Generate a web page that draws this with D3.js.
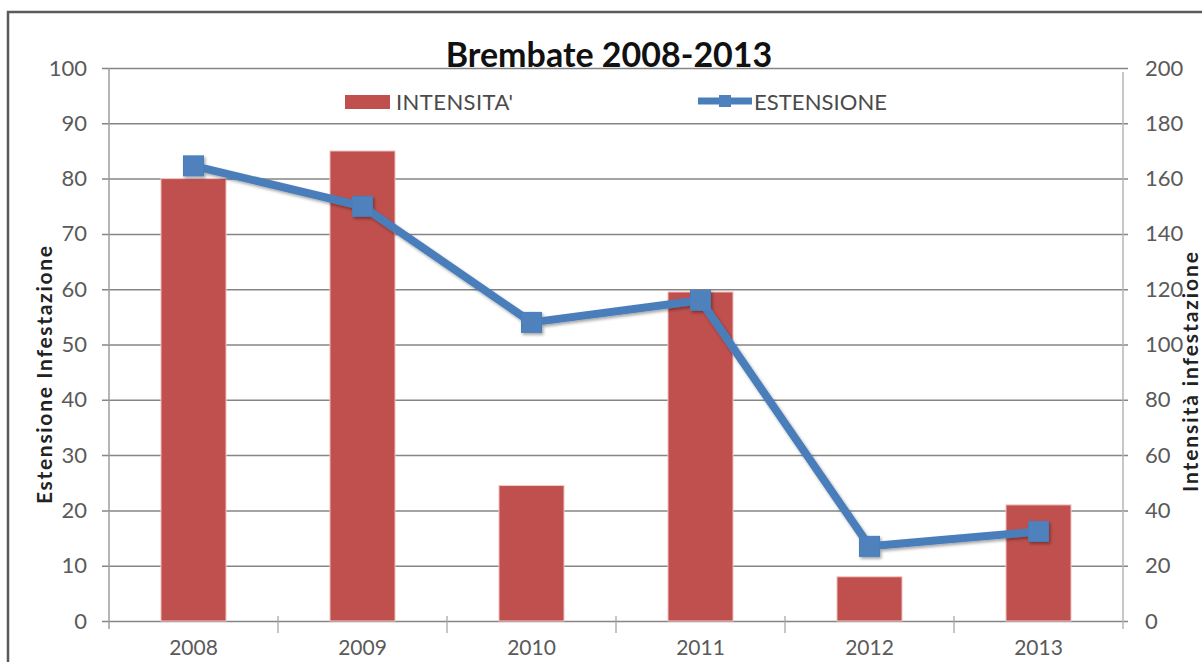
<!DOCTYPE html>
<html>
<head>
<meta charset="utf-8">
<script src="https://cdn.jsdelivr.net/npm/d3@7"></script>
<style>
body { margin: 0; background: #fff; overflow: hidden; }
text { font-family: Lato, "Open Sans", sans-serif; }
</style>
</head>
<body>
<script>
// data
var years = ["2008", "2009", "2010", "2011", "2012", "2013"];
var intensita = [160, 170, 49, 119, 16, 42];      // bars, right axis
var estensione = [82.3, 75, 54, 58, 13.5, 16.2];  // line, left axis
var leftTicks = [0, 10, 20, 30, 40, 50, 60, 70, 80, 90, 100];
var rightTicks = [0, 20, 40, 60, 80, 100, 120, 140, 160, 180, 200];

d3.select(window).on('load', init);

function init()
{
    var w = 1202;
    var h = 662;

    // plot area
    var left = 109, right = 1123, top = 68, bottom = 621;

    var svg = d3.select("body")
        .append("svg")
        .attr("width", w)
        .attr("height", h);

    var defs = svg.append("defs");
    var shadow = defs.append("filter")
        .attr("id", "shadow")
        .attr("x", "-10%").attr("y", "-10%")
        .attr("width", "130%").attr("height", "130%");
    shadow.append("feDropShadow")
        .attr("dx", 1.5).attr("dy", 2)
        .attr("stdDeviation", 1.8)
        .attr("flood-color", "#000")
        .attr("flood-opacity", 0.35);

    // outer frame (cut by the picture edges)
    svg.append("rect")
        .attr("x", 8).attr("y", 12)
        .attr("width", 1210).attr("height", 700)
        .attr("fill", "none")
        .attr("stroke", "#5a5a5a")
        .attr("stroke-width", 2.5);

    // scales
    var xScale = d3.scaleBand()
        .domain(years)
        .range([left, right])
        .paddingInner(0.615)
        .paddingOuter(0.3075);

    var yLeft = d3.scaleLinear()
        .domain([0, 100])
        .range([bottom, top]);

    var yRight = d3.scaleLinear()
        .domain([0, 200])
        .range([bottom, top]);

    function cx(d) { return xScale(d) + xScale.bandwidth() / 2; }

    // gridlines
    svg.append("g")
        .attr("transform", "translate(" + (left - 7) + ",0)")
        .call(d3.axisRight(yLeft).tickValues(leftTicks).tickSize(right - left + 12).tickFormat(""))
        .call(function(g) {
            g.select(".domain").remove();
            g.selectAll("line").attr("stroke", "#858585").attr("stroke-width", 1.5);
        });

    // left axis
    svg.append("g")
        .attr("transform", "translate(" + left + ",0)")
        .call(d3.axisLeft(yLeft).tickValues(leftTicks).tickSize(0).tickPadding(22))
        .call(function(g) {
            g.select(".domain").remove();
            g.selectAll("text")
                .attr("fill", "#5a5a5a")
                .style("font-size", "22px");
        });
    svg.append("line")
        .attr("x1", left).attr("x2", left)
        .attr("y1", top).attr("y2", bottom + 8)
        .attr("stroke", "#9d9d9d").attr("stroke-width", 1.5);

    // right axis
    svg.append("g")
        .attr("transform", "translate(" + right + ",0)")
        .call(d3.axisRight(yRight).tickValues(rightTicks).tickSize(0).tickPadding(22))
        .call(function(g) {
            g.select(".domain").remove();
            g.selectAll("text")
                .attr("fill", "#5a5a5a")
                .style("font-size", "22px");
        });
    svg.append("line")
        .attr("x1", right).attr("x2", right)
        .attr("y1", top + 4).attr("y2", bottom + 8)
        .attr("stroke", "#b4b4b4").attr("stroke-width", 1.5);

    // category boundary ticks on the x axis
    svg.selectAll(".xtick")
        .data(years.slice(1))
        .enter()
        .append("line")
        .attr("class", "xtick")
        .attr("x1", function(d) { return xScale(d) - xScale.step() * 0.3075; })
        .attr("x2", function(d) { return xScale(d) - xScale.step() * 0.3075; })
        .attr("y1", bottom - 5)
        .attr("y2", bottom + 12)
        .attr("stroke", "#a8a8a8")
        .attr("stroke-width", 1.3);

    // x labels
    svg.append("g")
        .attr("transform", "translate(0," + bottom + ")")
        .call(d3.axisBottom(xScale).tickSize(0).tickPadding(19))
        .call(function(g) {
            g.select(".domain").remove();
            g.selectAll("text")
                .attr("fill", "#5a5a5a")
                .style("font-size", "21px");
        });

    // bars
    svg.selectAll(".bar")
        .data(intensita)
        .enter()
        .append("rect")
        .attr("class", "bar")
        .attr("x", function(d, i) { return xScale(years[i]); })
        .attr("y", function(d) { return yRight(d); })
        .attr("width", xScale.bandwidth())
        .attr("height", function(d) { return bottom - yRight(d); })
        .attr("fill", "#c0504d")
        .attr("stroke", "#f3c9c7")
        .attr("stroke-width", 1);

    // line
    var line = d3.line()
        .x(function(d, i) { return cx(years[i]); })
        .y(function(d) { return yLeft(d); });

    var lineG = svg.append("g").attr("filter", "url(#shadow)");

    lineG.append("path")
        .datum(estensione)
        .attr("d", line)
        .attr("fill", "none")
        .attr("stroke", "#4a7ebb")
        .attr("stroke-width", 8)
        .attr("stroke-linejoin", "round");

    lineG.selectAll(".marker")
        .data(estensione)
        .enter()
        .append("rect")
        .attr("class", "marker")
        .attr("x", function(d, i) { return cx(years[i]) - 10; })
        .attr("y", function(d) { return yLeft(d) - 10; })
        .attr("width", 20)
        .attr("height", 20)
        .attr("fill", "#4f81bd")
        .attr("stroke", "#4a7ebb")
        .attr("stroke-width", 1);

    // title
    svg.append("text")
        .attr("x", 609)
        .attr("y", 67)
        .attr("text-anchor", "middle")
        .attr("fill", "#111")
        .style("font-size", "34px")
        .style("font-weight", "bold")
        .text("Brembate 2008-2013");

    // legend
    svg.append("rect")
        .attr("x", 345).attr("y", 95)
        .attr("width", 45).attr("height", 14)
        .attr("fill", "#c0504d");
    svg.append("text")
        .attr("x", 396).attr("y", 110)
        .attr("fill", "#4a4a4a")
        .style("font-size", "22px")
        .attr("textLength", 117)
        .text("INTENSITA'");

    svg.append("line")
        .attr("x1", 698).attr("x2", 752)
        .attr("y1", 101).attr("y2", 101)
        .attr("stroke", "#4a7ebb")
        .attr("stroke-width", 7);
    svg.append("rect")
        .attr("x", 719).attr("y", 95)
        .attr("width", 12).attr("height", 12)
        .attr("fill", "#4f81bd");
    svg.append("text")
        .attr("x", 754).attr("y", 110)
        .attr("fill", "#4a4a4a")
        .style("font-size", "22px")
        .attr("textLength", 133)
        .text("ESTENSIONE");

    // axis titles
    svg.append("text")
        .attr("transform", "translate(52,375) rotate(-90)")
        .attr("text-anchor", "middle")
        .attr("fill", "#222")
        .style("font-size", "21px")
        .style("font-weight", "bold")
        .attr("textLength", 258)
        .text("Estensione Infestazione");

    svg.append("text")
        .attr("transform", "translate(1198,372) rotate(-90)")
        .attr("text-anchor", "middle")
        .attr("fill", "#222")
        .style("font-size", "21px")
        .style("font-weight", "bold")
        .attr("textLength", 240)
        .text("Intensità infestazione");
}
</script>
</body>
</html>
